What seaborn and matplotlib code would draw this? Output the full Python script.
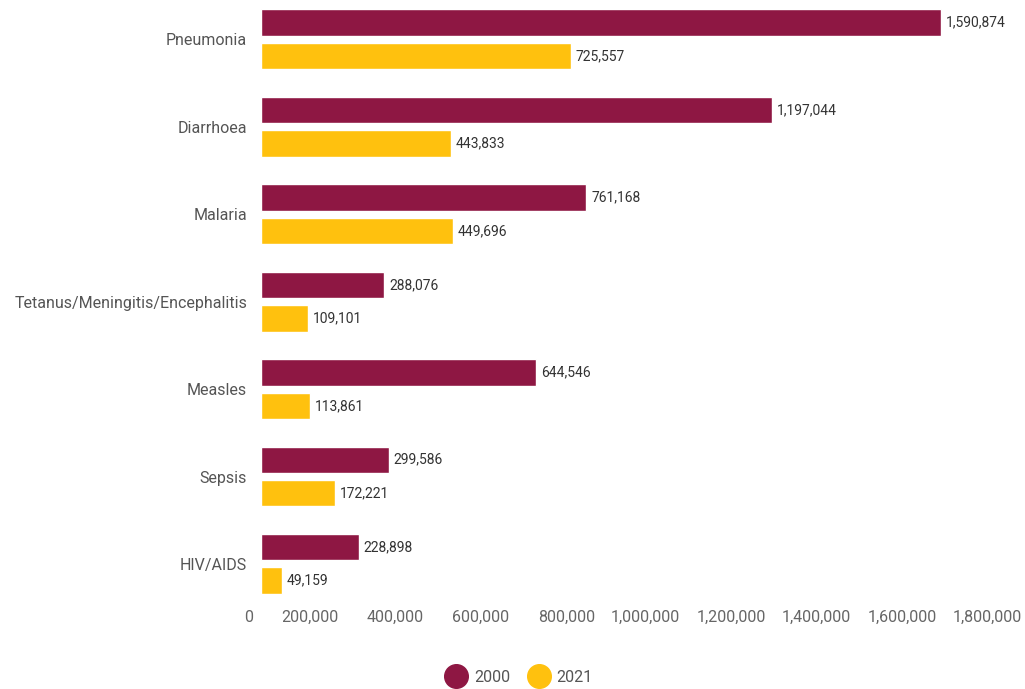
import matplotlib
matplotlib.use("Agg")
import matplotlib.pyplot as plt
import matplotlib.transforms as mtransforms
from matplotlib.lines import Line2D
import seaborn as sns
import pandas as pd

# Under-five deaths by cause, 2000 vs 2021
causes = ["Pneumonia", "Diarrhoea", "Malaria", "Tetanus/Meningitis/Encephalitis",
          "Measles", "Sepsis", "HIV/AIDS"]
deaths_2000 = [1590874, 1197044, 761168, 288076, 644546, 299586, 228898]
deaths_2021 = [725557, 443833, 449696, 109101, 113861, 172221, 49159]
years = ["2000", "2021"]
x_ticks = [0, 200000, 400000, 600000, 800000, 1000000, 1200000, 1400000, 1600000, 1800000]

colors = {"2000": "#8E1743", "2021": "#FFC10E"}

df = pd.DataFrame({
    "cause": causes * 2,
    "year": [years[0]] * len(causes) + [years[1]] * len(causes),
    "deaths": deaths_2000 + deaths_2021,
})

sns.set_theme(style="white")
plt.rcParams["font.family"] = ["Roboto", "DejaVu Sans"]

fig = plt.figure(figsize=(10.25, 6.89), dpi=100)
ax = fig.add_axes([261 / 1025, 1 - 603.3 / 689, 769 / 1025, 603.3 / 689])

sns.barplot(data=df, y="cause", x="deaths", hue="year", order=causes,
            hue_order=years, palette=colors, orient="h", width=0.766, gap=0.21,
            saturation=1, legend=False, ax=ax)

for container in ax.containers:
    ax.bar_label(container, labels=[f"{v:,.0f}" for v in container.datavalues],
                 padding=3.5, fontsize=10, color="#333333")

ax.set_xlim(0, 1800000)
ax.set_ylim(6.45, -0.45)
ax.set_xticks(x_ticks)
ax.set_xticklabels([f"{v:,}" for v in x_ticks])
ax.set_xlabel("")
ax.set_ylabel("")
for s in ax.spines.values():
    s.set_visible(False)
ax.tick_params(axis="both", length=0)
ax.tick_params(axis="y", pad=10, labelsize=11.5, labelcolor="#555555")
ax.tick_params(axis="x", pad=4.5, labelsize=11.5, labelcolor="#666666")

# x tick labels sit right-aligned just left of each tick position
shift = mtransforms.ScaledTranslation(-8 / 100, 0, fig.dpi_scale_trans)
for lbl in ax.get_xticklabels():
    lbl.set_horizontalalignment("right")
    lbl.set_transform(lbl.get_transform() + shift)

handles = [Line2D([], [], linestyle="none", marker="o", markersize=17,
                  markerfacecolor=colors[y], markeredgecolor=colors[y]) for y in years]
fig.legend(handles, years, loc="center", bbox_to_anchor=(0.507, 0.017),
           ncol=2, frameon=False, fontsize=11.5, labelcolor="#555555",
           handlelength=1.2, handletextpad=0.5, columnspacing=1.2)

fig.savefig("out.png", dpi=100)
